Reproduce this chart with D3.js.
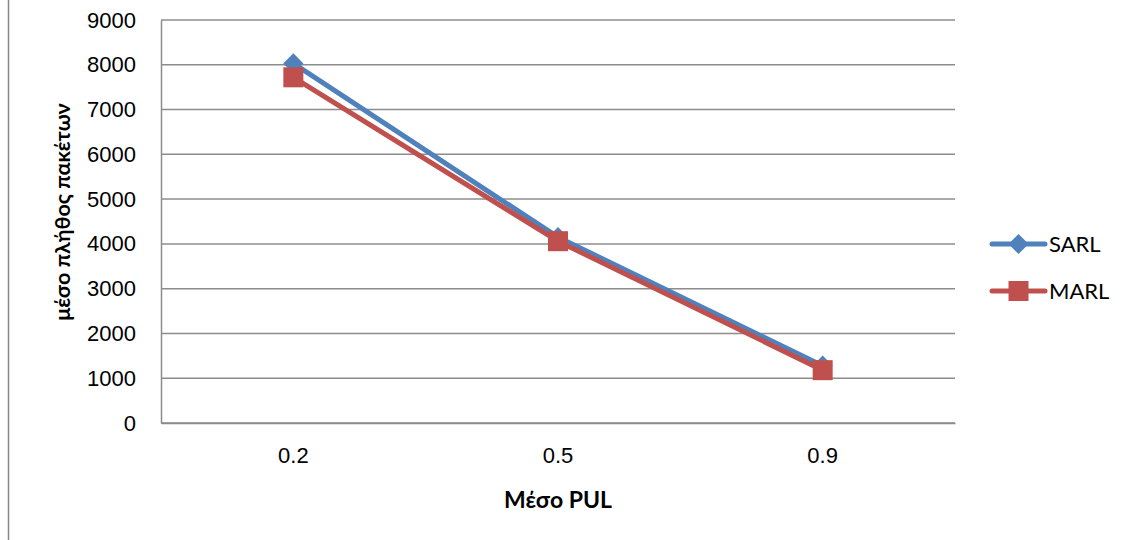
<!DOCTYPE html>
<html>
<head>
<meta charset="utf-8">
<script src="https://cdn.jsdelivr.net/npm/d3@7"></script>
<style>
  html, body { margin: 0; padding: 0; background: #fff; }
  svg { display: block; font-family: Lato, "Open Sans", sans-serif; }
</style>
</head>
<body>
<svg id="chart" width="1129" height="540"></svg>
<script>
// Mean PUL levels and the mean packet counts for each learning scheme
const categories = ["0.2", "0.5", "0.9"];
const sarlValues = [8030, 4150, 1280];
const marlValues = [7720, 4060, 1180];
const yTicks = [0, 1000, 2000, 3000, 4000, 5000, 6000, 7000, 8000, 9000];

const series = [
  { name: "SARL", values: sarlValues, color: "#4F81BD", marker: "diamond" },
  { name: "MARL", values: marlValues, color: "#C0504D", marker: "square" }
];

const svg = d3.select("#chart");
const plot = { left: 161, right: 955, top: 20, bottom: 423 };

const x = d3.scaleBand().domain(categories).range([plot.left, plot.right]);
const y = d3.scaleLinear().domain([0, 9000]).range([plot.bottom, plot.top]);

// Outer frame edge on the left
svg.append("line")
  .attr("x1", 8.5).attr("x2", 8.5).attr("y1", 0).attr("y2", 540)
  .attr("stroke", "#868686").attr("stroke-width", 1.5);

// Horizontal gridlines
svg.append("g")
  .selectAll("line")
  .data(yTicks)
  .join("line")
  .attr("x1", plot.left).attr("x2", plot.right)
  .attr("y1", d => y(d)).attr("y2", d => y(d))
  .attr("stroke", "#8c8c8c").attr("stroke-width", 1.5);

// Y axis
const yAxis = svg.append("g")
  .attr("transform", `translate(${plot.left},0)`)
  .call(d3.axisLeft(y).tickValues(yTicks).tickSize(0).tickPadding(25).tickFormat(d3.format("d")));
yAxis.select(".domain").attr("stroke", "#8c8c8c").attr("stroke-width", 1.5);
yAxis.selectAll("text").attr("font-size", 22).attr("fill", "#000");

// X axis
const xAxis = svg.append("g")
  .attr("transform", `translate(0,${plot.bottom})`)
  .call(d3.axisBottom(x).tickSize(0).tickPadding(24));
xAxis.select(".domain").attr("stroke", "#8c8c8c").attr("stroke-width", 1.5);
xAxis.selectAll("text").attr("font-size", 22).attr("fill", "#000");

// Axis titles
svg.append("text")
  .attr("x", x("0.5") + x.bandwidth() / 2).attr("y", 508)
  .attr("text-anchor", "middle").attr("font-size", 23).attr("font-weight", "bold")
  .text("Μέσο PUL");

svg.append("text")
  .attr("transform", "translate(70,212) rotate(-90)")
  .attr("text-anchor", "middle").attr("font-size", 21.5).attr("font-weight", "bold")
  .text("μέσο πλήθος πακέτων");

const cx = c => x(c) + x.bandwidth() / 2;
const line = d3.line().x((d, i) => cx(categories[i])).y(d => y(d));

const diamond = d3.symbol().type(d3.symbolDiamond2).size(260);
const square = d3.symbol().type(d3.symbolSquare).size(400);

function drawMarker(g, kind, px, py, color) {
  g.append("path")
    .attr("d", kind === "diamond" ? diamond() : square())
    .attr("transform", `translate(${px},${py})`)
    .attr("fill", color);
}

series.forEach(s => {
  const g = svg.append("g");
  g.append("path")
    .datum(s.values)
    .attr("d", line)
    .attr("fill", "none")
    .attr("stroke", s.color)
    .attr("stroke-width", 5)
    .attr("stroke-linejoin", "round");
  s.values.forEach((v, i) => drawMarker(g, s.marker, cx(categories[i]), y(v), s.color));
});

// Legend
const legend = svg.append("g");
series.forEach((s, i) => {
  const ly = 244 + i * 47;
  const g = legend.append("g");
  g.append("line")
    .attr("x1", 992).attr("x2", 1045).attr("y1", ly).attr("y2", ly)
    .attr("stroke", s.color).attr("stroke-width", 5).attr("stroke-linecap", "round");
  drawMarker(g, s.marker, 1018.5, ly, s.color);
  g.append("text")
    .attr("x", 1049).attr("y", ly).attr("dy", "0.36em")
    .attr("font-size", 22).attr("fill", "#000")
    .text(s.name);
});
</script>
</body>
</html>
